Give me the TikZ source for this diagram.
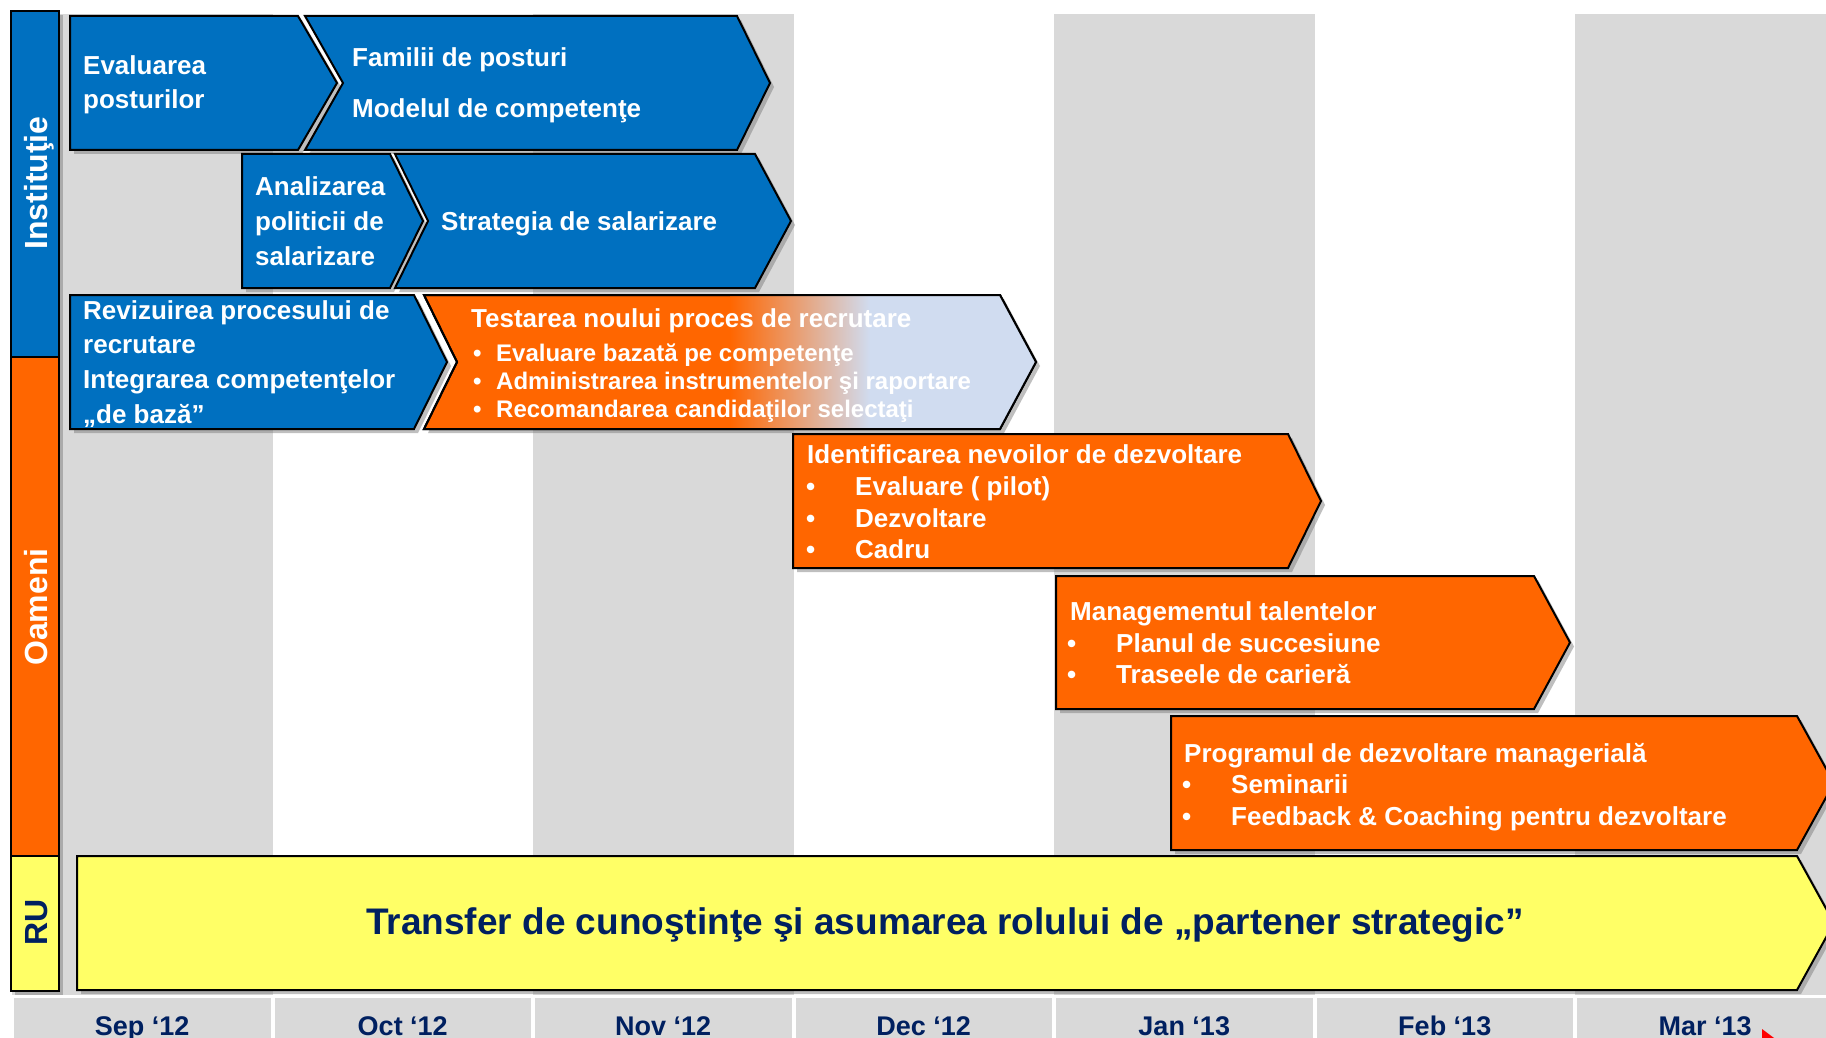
\documentclass[tikz,border=0pt]{standalone}
\usepackage{fontspec}
\setmainfont{Liberation Sans}
\usetikzlibrary{shadows}

\definecolor{instblue}{RGB}{0,112,192}
\definecolor{peopleorange}{RGB}{255,102,0}
\definecolor{hryellow}{RGB}{255,255,102}
\definecolor{navy}{RGB}{0,32,96}
\definecolor{monthgray}{RGB}{217,217,217}
\definecolor{paleblue}{RGB}{208,220,240}

\tikzset{
    stageshape/.style={draw=black, line width=2pt,
        drop shadow={shadow xshift=4pt, shadow yshift=-4pt, opacity=0.45, fill=black!55}},
    instbox/.style={stageshape, fill=instblue},
    peoplebox/.style={stageshape, fill=peopleorange},
    hrbox/.style={stageshape, fill=hryellow},
    stagetext/.style={anchor=base west, inner sep=0pt, text=white, font=\fontsize{26}{31}\selectfont\bfseries},
    smalltext/.style={stagetext, font=\fontsize{24}{28}\selectfont\bfseries},
    sidelabel/.style={rotate=90, anchor=base, inner sep=0pt, text=white, font=\fontsize{32}{36}\selectfont\bfseries},
    monthlabel/.style={anchor=base, inner sep=0pt, text=navy, font=\fontsize{27}{30}\selectfont\bfseries},
}

% chevron: style, left x, top y, corner x, tip x, bottom y, notch x
\newcommand{\stage}[7]{%
    \path[#1] (#2,#3) -- (#4,#3) -- (#5,{(#3+#6)/2}) -- (#4,#6) -- (#2,#6) -- (#7,{(#3+#6)/2}) -- cycle;
}
\newcommand{\bul}[1]{\makebox[#1][l]{•}}

\begin{document}
\begin{tikzpicture}[x=1pt, y=-1pt]
    \useasboundingbox (0,0) rectangle (1826,1038);
    \clip (0,0) rectangle (1826,1038);
    \fill[white] (0,0) rectangle (1826,1038);

    % month columns and labels
    \foreach \m [count=\i from 0] in {Sep ‘12, Oct ‘12, Nov ‘12, Dec ‘12, Jan ‘13, Feb ‘13, Mar ‘13}{
        \pgfmathsetmacro{\xl}{12+260.5*\i}
        \ifodd\i\else \fill[monthgray] (\xl,14) rectangle ({\xl+260.5},995); \fi
        \fill[monthgray] ({\xl+2},998) rectangle ({\xl+258.5},1040);
        \node[monthlabel] (month\i) at ({\xl+130.25},1035) {\m};
    }
    \fill[red] (1762,1029) -- (1774,1038) -- (1762,1038) -- cycle;

    % side bar
    \path[instbox] (11,11) rectangle (59,357);
    \path[peoplebox] (11,357) rectangle (59,856);
    \path[hrbox] (11,856) rectangle (59,991);
    \node[sidelabel] (inst) at (47,183) {Instituţie};
    \node[sidelabel] (oameni) at (47,607) {Oameni};
    \node[sidelabel, text=navy] (ru) at (47,922) {RU};

    % Institutie stages
    \stage{instbox}{70}{16}{298}{337}{150}{70}
    \stage{instbox}{305}{16}{737}{770}{150}{343}
    \stage{instbox}{242}{154}{390}{423}{288}{242}
    \stage{instbox}{395}{154}{755}{791}{288}{428}
    \stage{instbox}{70}{295}{414}{447}{429}{70}

    % recruitment test, fading out
    \stage{peoplebox}{424}{295}{1000}{1036}{429}{457}
    \begin{scope}
        \stage{clip}{424}{295}{1000}{1036}{429}{457}
        \shade[left color=peopleorange, right color=paleblue] (730,290) rectangle (870,435);
        \fill[paleblue] (870,290) rectangle (1045,435);
    \end{scope}
    \stage{draw=black, line width=2pt}{424}{295}{1000}{1036}{429}{457}

    % Oameni stages
    \stage{peoplebox}{793}{434}{1288}{1321}{568}{793}
    \stage{peoplebox}{1056}{576}{1534}{1570}{709}{1056}
    \stage{peoplebox}{1171}{716}{1797}{1834}{850}{1171}

    % RU
    \stage{hrbox}{77}{856}{1797}{1834}{990}{77}

    \node[stagetext] (evpost1) at (83,75) {Evaluarea};
    \node[stagetext] (evpost2) at (83,109) {posturilor};
    \node[stagetext] (famil) at (352,67) {Familii de posturi};
    \node[stagetext] (model) at (352,118) {Modelul de competenţe};
    \node[stagetext] (anpol1) at (255,195) {Analizarea};
    \node[stagetext] (anpol2) at (255,230) {politicii de};
    \node[stagetext] (anpol3) at (255,265) {salarizare};
    \node[stagetext] (strat) at (441,230) {Strategia de salarizare};
    \node[stagetext] (reviz1) at (83,319) {Revizuirea procesului de};
    \node[stagetext] (reviz2) at (83,353) {recrutare};
    \node[stagetext] (reviz3) at (83,388) {Integrarea competenţelor};
    \node[stagetext] (reviz4) at (83,423) {„de bază”};

    \node[stagetext] (test) at (471,327) {Testarea noului proces de recrutare};
    \node[smalltext] (test1) at (473,361) {\bul{23pt}Evaluare bazată pe competenţe};
    \node[smalltext] (test2) at (473,389) {\bul{23pt}Administrarea instrumentelor şi raportare};
    \node[smalltext] (test3) at (473,417) {\bul{23pt}Recomandarea candidaţilor selectaţi};

    \node[stagetext] (ident) at (807,463) {Identificarea nevoilor de dezvoltare};
    \node[stagetext] (ident1) at (806,495) {\bul{49pt}Evaluare ( pilot)};
    \node[stagetext] (ident2) at (806,527) {\bul{49pt}Dezvoltare};
    \node[stagetext] (ident3) at (806,558) {\bul{49pt}Cadru};

    \node[stagetext] (talent) at (1070,620) {Managementul talentelor};
    \node[stagetext] (talent1) at (1067,652) {\bul{49pt}Planul de succesiune};
    \node[stagetext] (talent2) at (1067,683) {\bul{49pt}Traseele de carieră};

    \node[stagetext] (manag) at (1184,762) {Programul de dezvoltare managerială};
    \node[stagetext] (manag1) at (1182,793) {\bul{49pt}Seminarii};
    \node[stagetext] (manag2) at (1182,825) {\bul{49pt}Feedback \& Coaching pentru dezvoltare};

    \node[anchor=base, inner sep=0pt, text=navy, font=\fontsize{37}{40}\selectfont\bfseries] (transfer) at (945,934)
        {Transfer de cunoştinţe şi asumarea rolului de „partener strategic”};
\end{tikzpicture}
\end{document}
